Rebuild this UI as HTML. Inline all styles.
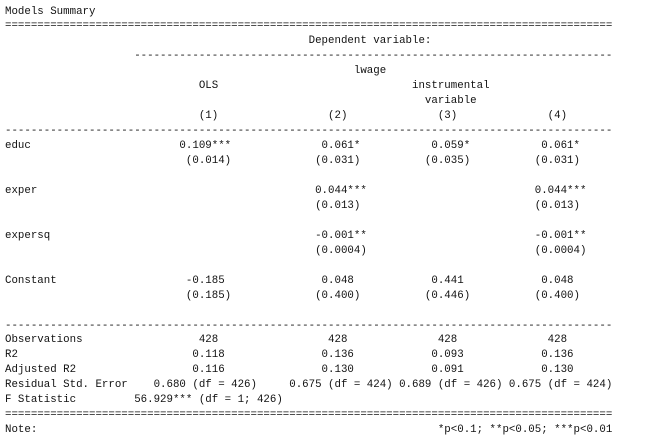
<!DOCTYPE html>
<html><head><meta charset="utf-8"><style>
html,body{margin:0;padding:0;background:#fff;width:650px;height:439px;overflow:hidden}
pre{margin:0;position:absolute;left:5px;top:4.5px;font-family:"Liberation Mono",monospace;font-size:10.77px;line-height:14.96px;color:#111}
</style></head><body>
<pre>Models Summary
==============================================================================================
                                               Dependent variable:
                    --------------------------------------------------------------------------
                                                      lwage
                              OLS                              instrumental
                                                                 variable
                              (1)                 (2)              (3)              (4)
----------------------------------------------------------------------------------------------
educ                       0.109***              0.061*           0.059*           0.061*
                            (0.014)             (0.031)          (0.035)          (0.031)

exper                                           0.044***                          0.044***
                                                (0.013)                           (0.013)

expersq                                         -0.001**                          -0.001**
                                                (0.0004)                          (0.0004)

Constant                    -0.185               0.048            0.441            0.048
                            (0.185)             (0.400)          (0.446)          (0.400)

----------------------------------------------------------------------------------------------
Observations                  428                 428              428              428
R2                           0.118               0.136            0.093            0.136
Adjusted R2                  0.116               0.130            0.091            0.130
Residual Std. Error    0.680 (df = 426)     0.675 (df = 424) 0.689 (df = 426) 0.675 (df = 424)
F Statistic         56.929*** (df = 1; 426)
==============================================================================================
Note:                                                              *p&lt;0.1; **p&lt;0.05; ***p&lt;0.01</pre>
</body></html>
